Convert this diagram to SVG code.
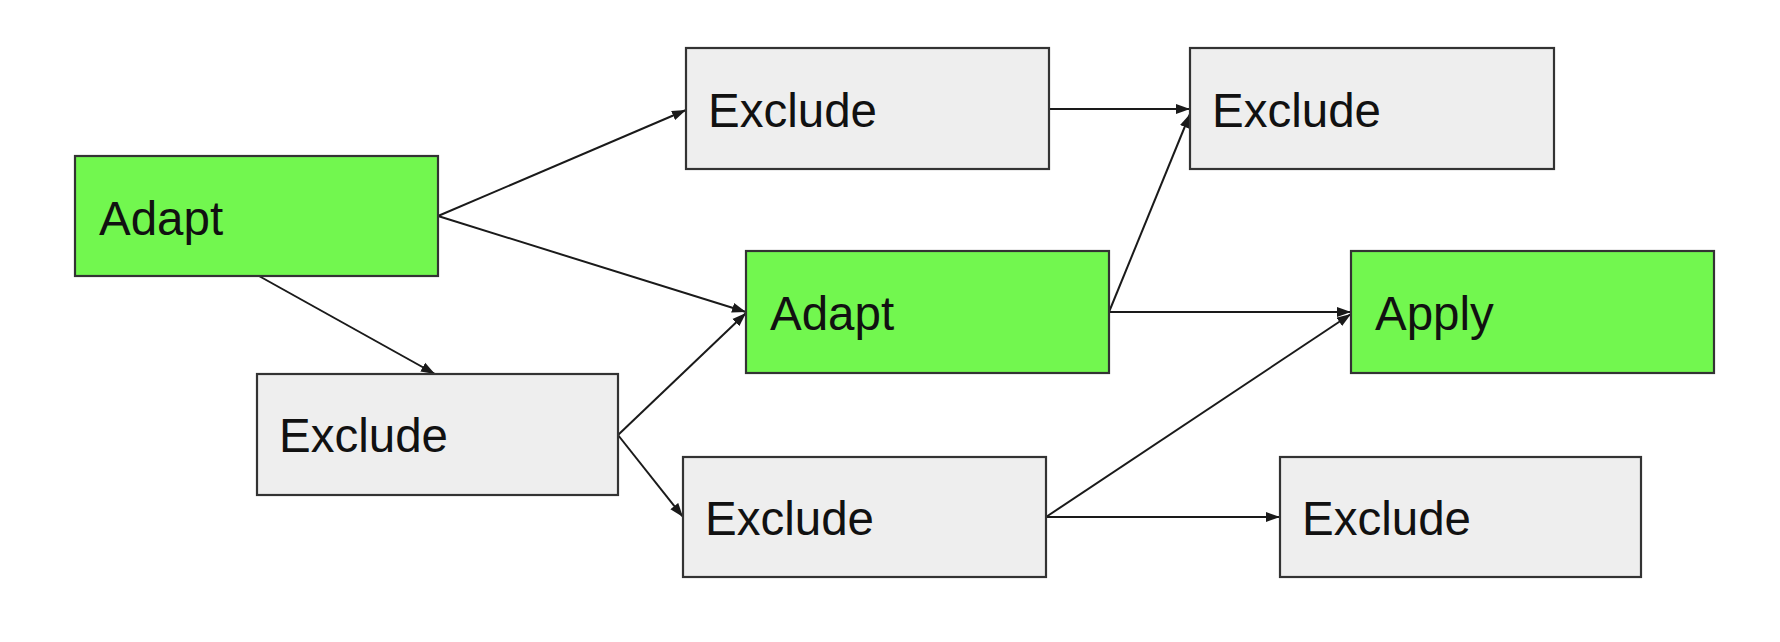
<svg xmlns="http://www.w3.org/2000/svg" width="1780" height="642" viewBox="0 0 1780 642">
<style>
.box{stroke:#333;stroke-width:2.2}
.green{fill:#72f74f}
.gray{fill:#eeeeee}
.lbl{font-family:"Liberation Sans",Arial,sans-serif;font-size:47.5px;fill:#111}
.edge{stroke:#1a1a1a;stroke-width:2;fill:none;marker-end:url(#ah)}
</style>
<defs>
<marker id="ah" markerUnits="userSpaceOnUse" markerWidth="15" markerHeight="11" refX="14" refY="5.5" orient="auto">
<path d="M0,0.5 L14,5.5 L0,10.5 z" fill="#1a1a1a"/>
</marker>
</defs>
<rect width="1780" height="642" fill="#ffffff"/>
<g id="connectors">
<line class="edge" x1="438" y1="216" x2="686" y2="110"/>
<line class="edge" x1="438" y1="216" x2="746" y2="312"/>
<line class="edge" x1="259" y1="276" x2="435" y2="374"/>
<line class="edge" x1="618" y1="435" x2="746" y2="313"/>
<line class="edge" x1="618" y1="435" x2="683" y2="517"/>
<line class="edge" x1="1049" y1="109" x2="1190" y2="109"/>
<line class="edge" x1="1109" y1="312" x2="1190" y2="114"/>
<line class="edge" x1="1109" y1="312" x2="1351" y2="312"/>
<line class="edge" x1="1046" y1="517" x2="1351" y2="314"/>
<line class="edge" x1="1046" y1="517" x2="1280" y2="517"/>
</g>
<g id="n-adapt1"><rect class="box green" x="75" y="156" width="363" height="120"/><text class="lbl" x="99" y="235">Adapt</text></g>
<g id="n-exclude2"><rect class="box gray" x="257" y="374" width="361" height="121"/><text class="lbl" x="279" y="452">Exclude</text></g>
<g id="n-exclude-top"><rect class="box gray" x="686" y="48" width="363" height="121"/><text class="lbl" x="708" y="127">Exclude</text></g>
<g id="n-adapt-mid"><rect class="box green" x="746" y="251" width="363" height="122"/><text class="lbl" x="770" y="330">Adapt</text></g>
<g id="n-exclude-bm"><rect class="box gray" x="683" y="457" width="363" height="120"/><text class="lbl" x="705" y="535">Exclude</text></g>
<g id="n-exclude-tr"><rect class="box gray" x="1190" y="48" width="364" height="121"/><text class="lbl" x="1212" y="127">Exclude</text></g>
<g id="n-apply"><rect class="box green" x="1351" y="251" width="363" height="122"/><text class="lbl" x="1375" y="330">Apply</text></g>
<g id="n-exclude-br"><rect class="box gray" x="1280" y="457" width="361" height="120"/><text class="lbl" x="1302" y="535">Exclude</text></g>
</svg>
